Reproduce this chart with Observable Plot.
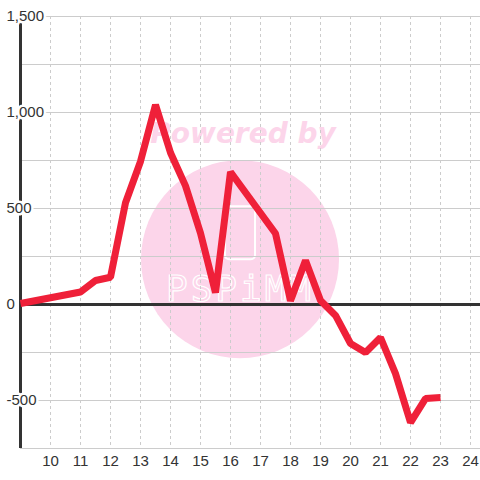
<!DOCTYPE html>
<html>
<head>
<meta charset="utf-8">
<script src="https://cdn.jsdelivr.net/npm/d3@7"></script>
<script src="https://cdn.jsdelivr.net/npm/@observablehq/plot@0.6"></script>
<style>
  html, body { margin: 0; padding: 0; background: #fff; }
  #chart { width: 480px; height: 480px; }
</style>
</head>
<body>
<div id="chart"></div>
<script>
const hours = [9, 11, 11.5, 12, 12.5, 13, 13.5, 14, 14.5, 15, 15.5, 16, 17.5, 18, 18.5, 19, 19.5, 20, 20.5, 21, 21.5, 22, 22.5, 23];
const values = [5, 65, 125, 142, 530, 745, 1040, 790, 618, 372, 62, 690, 370, 20, 229, 21, -57, -203, -250, -172, -360, -615, -490, -484];
const xTicks = [10, 11, 12, 13, 14, 15, 16, 17, 18, 19, 20, 21, 22, 23, 24];
const yGrid = [-750, -500, -250, 0, 250, 500, 750, 1000, 1250, 1500];
const yLabels = [-500, 0, 500, 1000, 1500];

const data = hours.map((h, i) => ({hour: h, value: values[i]}));

const W = 480, H = 480;
const plot = Plot.plot({
  width: W,
  height: H,
  marginLeft: 20,
  marginRight: 0,
  marginTop: 16,
  marginBottom: 32,
  style: {fontFamily: "Liberation Sans, Arial, sans-serif", background: "#fff"},
  x: {domain: [9, 24 + 1/3], axis: null},
  y: {domain: [-750, 1500], axis: null},
  marks: [
    Plot.ruleY(yGrid, {stroke: "#cccccc", strokeWidth: 1}),
    Plot.ruleX(xTicks, {stroke: "#cccccc", strokeWidth: 1, strokeDasharray: "3,3"}),
    Plot.ruleY([0], {stroke: "#333333", strokeWidth: 3}),
    Plot.ruleX([9], {stroke: "#333333", strokeWidth: 3}),
    Plot.text(yLabels, {
      y: d => d,
      frameAnchor: "left",
      text: d => d.toLocaleString("en-US"),
      textAnchor: "start",
      dx: -14,
      fontSize: 15,
      fill: "#333333",
      stroke: "#ffffff",
      strokeWidth: 5,
      paintOrder: "stroke"
    }),
    Plot.axisX({ticks: xTicks, tickSize: 0, tickPadding: 7, fontSize: 15, color: "#333333", label: null, tickFormat: d => String(d)}),
    Plot.line(data, {x: "hour", y: "value", stroke: "#EF2039", strokeWidth: 7, strokeLinejoin: "bevel", strokeLinecap: "butt"})
  ]
});

document.getElementById("chart").appendChild(plot);

// Watermark decoration, placed relative to the plot frame, under the grid
const svg = d3.select(plot);
const wm = svg.insert("g", ":first-child").attr("class", "watermark");
const cx = W * 0.5, cy = H * 0.54;
const pink = "#FCD5EA";
wm.append("circle").attr("cx", cx).attr("cy", cy).attr("r", 99).attr("fill", pink);
wm.append("text")
  .attr("x", cx + 3).attr("y", cy - 116)
  .attr("text-anchor", "middle")
  .attr("font-family", "DejaVu Sans")
  .attr("font-weight", "bold")
  .attr("font-style", "italic")
  .attr("font-size", 28)
  .attr("fill", pink)
  .text("Powered by");
wm.append("rect")
  .attr("x", cx - 15).attr("y", cy - 53).attr("width", 30).attr("height", 53)
  .attr("rx", 4)
  .attr("fill", "none").attr("stroke", "#ffffff").attr("stroke-width", 2);
wm.append("text")
  .attr("x", cx).attr("y", cy + 42)
  .attr("text-anchor", "middle")
  .attr("font-family", "DejaVu Sans Mono")
  .attr("font-size", 36)
  .attr("letter-spacing", 3)
  .attr("fill", pink)
  .attr("stroke", "#ffffff")
  .attr("stroke-width", 1.2)
  .text("PSPiMM");
</script>
</body>
</html>
